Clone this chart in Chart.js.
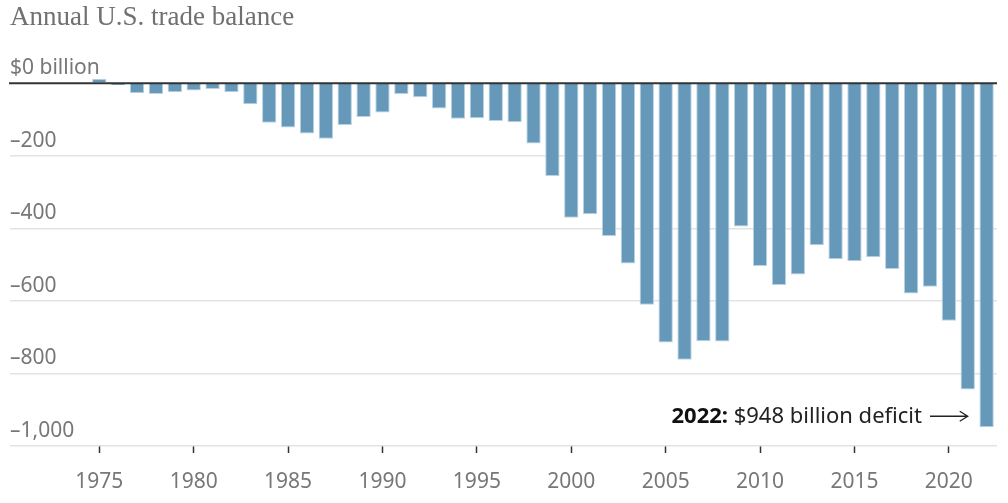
<!DOCTYPE html>
<html>
<head>
<meta charset="utf-8">
<script src="https://cdn.jsdelivr.net/npm/chart.js@4"></script>
<style>
  html, body { margin: 0; padding: 0; background: #fff; }
  #wrap { width: 1008px; height: 503px; position: relative; }
</style>
</head>
<body>
<div id="wrap"><canvas id="mycanvas"></canvas></div>
<script>
// annual U.S. trade balance, billions of dollars
var years = [];
for (var y = 1975; y <= 2022; y++) years.push(y);

var balance = [
  12, -6, -28, -30, -25, -20, -16, -25, -58, -109,
  -122, -139, -153, -115, -93, -81, -30, -39, -70, -98,
  -97, -104, -108, -166, -256, -371, -361, -421, -497, -611,
  -715, -762, -711, -712, -395, -504, -556, -527, -447, -485,
  -491, -480, -512, -580, -561, -655, -844, -948
];

var xTicks = [1975, 1980, 1985, 1990, 1995, 2000, 2005, 2010, 2015, 2020];
var yTicks = [0, -200, -400, -600, -800, -1000];
var yTickLabels = ["$0 billion", "\u2013200", "\u2013400", "\u2013600", "\u2013800", "\u20131,000"];

var noteYear = 2022;
var noteBold = "2022:";
var noteText = " $948 billion deficit";

var sans = "'Noto Sans', sans-serif";

var points = [];
for (var i in years) {
  points.push({ x: years[i], y: balance[i] });
}

// zero line on top of bars + annotation
var extras = {
  id: "extras",
  afterDatasetsDraw: function(chart) {
    var c = chart.ctx, xs = chart.scales.x, ys = chart.scales.y;
    var y0 = ys.getPixelForValue(0);
    c.save();
    c.strokeStyle = "#333";
    c.lineWidth = 2;
    c.beginPath();
    c.moveTo(chart.chartArea.left - 1, y0);
    c.lineTo(chart.chartArea.right, y0);
    c.stroke();

    var ty = ys.getPixelForValue(-918);
    var ax1 = xs.getPixelForValue(noteYear - 3);
    var ax2 = xs.getPixelForValue(noteYear - 1);
    c.strokeStyle = "#222";
    c.lineWidth = 1.3;
    c.beginPath();
    c.moveTo(ax1, ty);
    c.lineTo(ax2, ty);
    c.moveTo(ax2 - 8, ty - 5);
    c.lineTo(ax2, ty);
    c.lineTo(ax2 - 8, ty + 5);
    c.stroke();

    c.textBaseline = "middle";
    c.textAlign = "right";
    c.fillStyle = "#222";
    c.font = "22px " + sans;
    var tx = ax1 - 8;
    c.fillText(noteText, tx, ty);
    var w = c.measureText(noteText).width;
    c.font = "bold 22px " + sans;
    c.fillStyle = "#111";
    c.fillText(noteBold, tx - w, ty);
    c.restore();
  }
};

var ctx = document.getElementById("mycanvas");

var BarGraph = new Chart(ctx, {
  type: "bar",
  data: {
    datasets: [
      {
        label: "Trade balance",
        data: points,
        backgroundColor: "#6699b9",
        borderColor: "#b9d3e3",
        borderWidth: 1,
        categoryPercentage: 1,
        barPercentage: 0.76
      }
    ]
  },
  options: {
    responsive: true,
    maintainAspectRatio: false,
    animation: false,
    layout: { padding: { left: 10, right: 11, top: 0, bottom: 0 } },
    plugins: {
      legend: { display: false },
      tooltip: { enabled: false },
      title: {
        display: true,
        text: "Annual U.S. trade balance",
        align: "start",
        color: "#707070",
        font: { family: "'Liberation Serif', serif", size: 27, weight: "normal" },
        padding: { top: 2, bottom: 27 }
      }
    },
    scales: {
      x: {
        type: "linear",
        offset: false,
        min: 1970.27,
        max: 2022.55,
        afterBuildTicks: function(s) {
          s.ticks = xTicks.map(function(v) { return { value: v }; });
        },
        afterFit: function(s) { s.height = 57; },
        grid: {
          offset: false,
          drawOnChartArea: false,
          drawTicks: true,
          tickLength: 7,
          tickColor: "#333",
          tickWidth: 1.5
        },
        border: { display: false },
        ticks: {
          color: "#777",
          padding: 16,
          maxRotation: 0,
          font: { family: sans, size: 21 },
          callback: function(v) { return String(v); }
        }
      },
      y: {
        min: -1000,
        max: 60,
        afterBuildTicks: function(s) {
          s.ticks = yTicks.map(function(v) { return { value: v }; });
        },
        afterFit: function(s) { s.width = 0; },
        grid: {
          drawTicks: false,
          color: function(c) { return c.tick && c.tick.value === 0 ? "rgba(0,0,0,0)" : "#e3e3e3"; },
          lineWidth: 1.5
        },
        border: { display: false },
        ticks: {
          mirror: true,
          padding: 0,
          labelOffset: -15,
          color: "#777",
          font: { family: sans, size: 21 },
          callback: function(v) {
            var k = yTicks.indexOf(v);
            return k >= 0 ? yTickLabels[k] : "";
          }
        }
      }
    }
  },
  plugins: [extras]
});
</script>
</body>
</html>
